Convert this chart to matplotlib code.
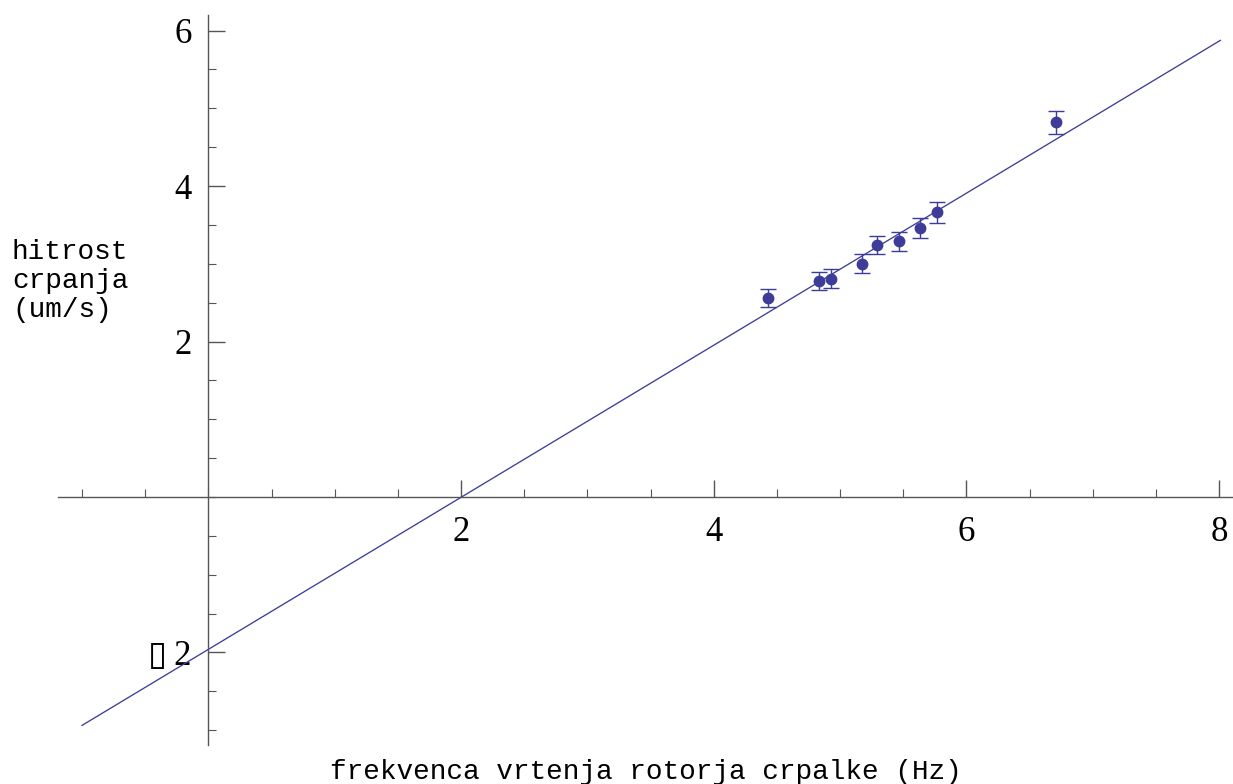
import numpy as np
import matplotlib.pyplot as plt
from matplotlib.ticker import MultipleLocator, FixedLocator

# meritve: frekvenca (Hz), hitrost (um/s), napaka
freq = [4.43, 4.83, 4.93, 5.17, 5.29, 5.47, 5.63, 5.77, 6.71]
speed = [2.56, 2.78, 2.81, 3.00, 3.24, 3.29, 3.46, 3.66, 4.82]
err = [0.12, 0.12, 0.12, 0.12, 0.12, 0.12, 0.13, 0.13, 0.15]

# premica (fit)
k = 0.978
n = -1.96
x_fit = np.linspace(-1.0, 8.01, 50)

xticks = [2, 4, 6, 8]
yticks = [-2, 2, 4, 6]
ytick_labels = ["\u25af\u20092", "2", "4", "6"]

color = "#3d3d99"
axis_col = "#555555"

fig = plt.figure(figsize=(12.33, 7.84), dpi=100)
ax = fig.add_axes([58 / 1233, 1 - 745 / 784, 1 - 58 / 1233, (745 - 15) / 784])

ax.plot(x_fit, k * x_fit + n, color=color, lw=0.95)
ax.errorbar(freq, speed, yerr=err, fmt="o", color=color, ms=7.5, capsize=5.5,
            elinewidth=1.0, capthick=1.0)

ax.set_xlim(-1.19, 8.11)
ax.set_ylim(-3.19, 6.2)

for s in ["top", "right"]:
    ax.spines[s].set_visible(False)
ax.spines["left"].set_position(("data", 0))
ax.spines["bottom"].set_position(("data", 0))
for s in ["left", "bottom"]:
    ax.spines[s].set_color(axis_col)
    ax.spines[s].set_linewidth(1.0)

ax.xaxis.set_major_locator(FixedLocator(xticks))
ax.xaxis.set_minor_locator(MultipleLocator(0.5))
ax.yaxis.set_major_locator(FixedLocator(yticks))
ax.yaxis.set_minor_locator(MultipleLocator(0.5))
ax.set_yticklabels(ytick_labels)

ax.tick_params(which="both", direction="in", color=axis_col)
ax.tick_params(which="major", length=12, width=1.0)
ax.tick_params(which="minor", length=6, width=0.8)
ax.tick_params(axis="x", which="major", pad=14)
ax.tick_params(axis="y", which="major", pad=12)
for lab in ax.get_xticklabels() + ax.get_yticklabels():
    lab.set_family(["Liberation Serif", "DejaVu Serif"])
    lab.set_fontsize(25)

fig.text(646 / 1233, 1 - 772 / 784, "frekvenca vrtenja rotorja crpalke (Hz)",
         family="Liberation Mono", fontsize=20, ha="center", va="center")
fig.text(12 / 1233, 1 - 281 / 784, "hitrost\ncrpanja\n(um/s)",
         family="Liberation Mono", fontsize=20, ha="left", va="center",
         linespacing=1.15)

fig.savefig("out.png", dpi=100)
